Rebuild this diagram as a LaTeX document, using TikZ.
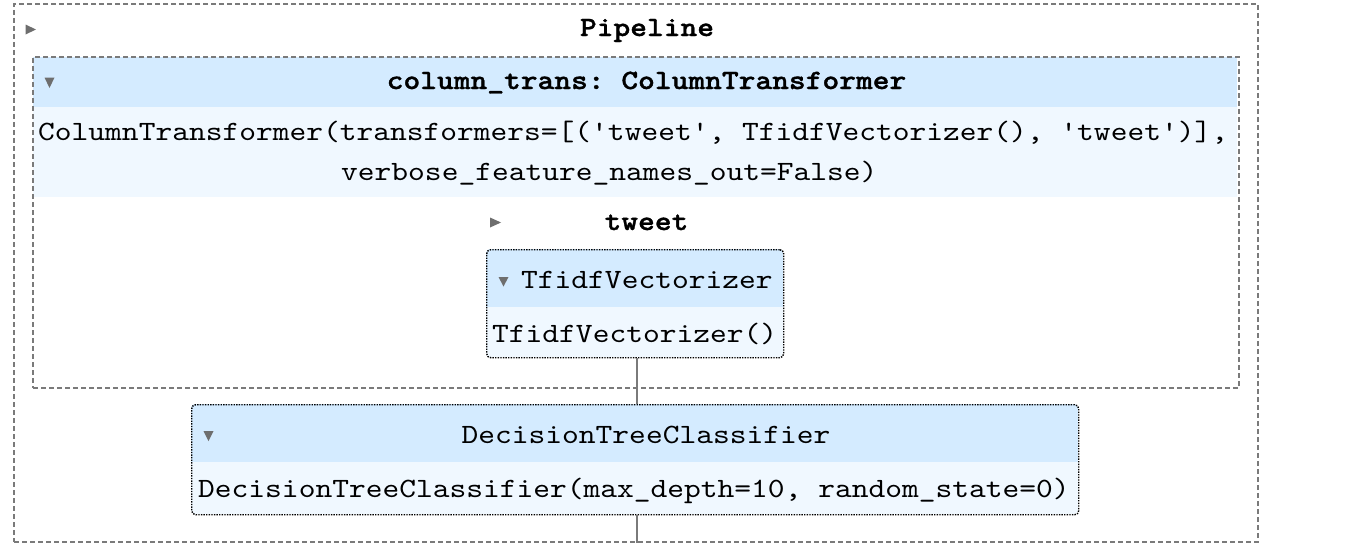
\documentclass[tikz,border=0pt]{standalone}
\usepackage{fontspec}
\newfontfamily\monofnt{lmmono10-regular}[Extension=.otf, BoldFont=lmmonolt10-bold, BoldFeatures={FakeBold=1.2}, FakeStretch=1.1429]
\definecolor{hdrblue}{HTML}{D4EBFF}
\definecolor{bodyblue}{HTML}{F0F8FF}
\definecolor{linegray}{HTML}{7A7A7A}
\definecolor{arrowgray}{HTML}{6E6E6E}
\tikzset{
  dashbox/.style={draw=linegray, line width=2pt, dash pattern=on 5pt off 3pt, inner sep=0pt, anchor=north west},
  estbox/.style={draw=black, line width=1.4pt, dash pattern=on 1.4pt off 1.2pt, rounded corners=4pt, inner sep=0pt, anchor=north west},
  txt/.style={font=\monofnt\frenchspacing\fontsize{27.93}{33}\selectfont, inner sep=0pt, text=black},
  btxt/.style={txt, font=\monofnt\frenchspacing\bfseries\fontsize{27.93}{33}\selectfont},
  conn/.style={draw=linegray, line width=1.8pt},
  tri/.style={fill=arrowgray},
}
\begin{document}
\begin{tikzpicture}[x=1pt,y=-1pt]
\useasboundingbox (0,0) rectangle (1360,554);
% fills
\fill[hdrblue] (33,57) rectangle (1237,107);
\fill[bodyblue] (33,107) rectangle (1237,197);
% boxes
\node[dashbox, minimum width=1244pt, minimum height=538pt] (pipeline) at (13,3) {};
\node[dashbox, minimum width=1206pt, minimum height=331pt] (coltrans) at (32,56) {};
\begin{scope}
  \clip[rounded corners=4pt] (486,249) rectangle (783,357);
  \fill[bodyblue] (486,249) rectangle (783,357);
  \fill[hdrblue] (486,249) rectangle (783,307);
\end{scope}
\node[estbox, minimum width=297pt, minimum height=108pt] (tfidf) at (486,249) {};
\begin{scope}
  \clip[rounded corners=4pt] (191,404) rectangle (1078,514);
  \fill[bodyblue] (191,404) rectangle (1078,514);
  \fill[hdrblue] (191,404) rectangle (1078,462);
\end{scope}
\node[estbox, minimum width=887pt, minimum height=110pt] (dtc) at (191,404) {};
% triangles
\fill[tri] (25.5,24.5) -- (36,29.5) -- (25.5,34.5) -- cycle;
\fill[tri] (44.5,77.5) -- (54.5,77.5) -- (49.5,88) -- cycle;
\fill[tri] (490,217.5) -- (501,222.5) -- (490,227.5) -- cycle;
\fill[tri] (498.5,277) -- (508.5,277) -- (503.5,286.5) -- cycle;
\fill[tri] (203.5,431) -- (213.5,431) -- (208.5,441) -- cycle;
% texts
\node[btxt, anchor=base] (pipetitle) at (647,36) {Pipeline};
\node[btxt, anchor=base] (cttitle) at (646.5,89) {column\_trans: ColumnTransformer};
\node[txt, anchor=base west] (ctbody1) at (38,140) {ColumnTransformer(transformers=[('tweet', TfidfVectorizer(), 'tweet')],};
\node[txt, anchor=base west] (ctbody2) at (341,180) {verbose\_feature\_names\_out=False)};
\node[btxt, anchor=base] (tweet) at (646.5,230) {tweet};
\node[txt, anchor=base west] (tftitle) at (521,288) {TfidfVectorizer};
\node[txt, anchor=base west] (tfbody) at (492,342) {TfidfVectorizer()};
\node[txt, anchor=base] (dttitle) at (646,443) {DecisionTreeClassifier};
\node[txt, anchor=base west] (dtbody) at (198,497) {DecisionTreeClassifier(max\_depth=10, random\_state=0)};
% connectors
\coordinate (pipeend) at (dtc.south |- pipeline.south);
\draw[conn] ([xshift=1.5pt]tfidf.south) -- ([xshift=1.5pt]dtc.north);
\draw[conn] ([xshift=1.5pt]dtc.south) -- ([xshift=1.5pt]pipeend);
\end{tikzpicture}
\end{document}
